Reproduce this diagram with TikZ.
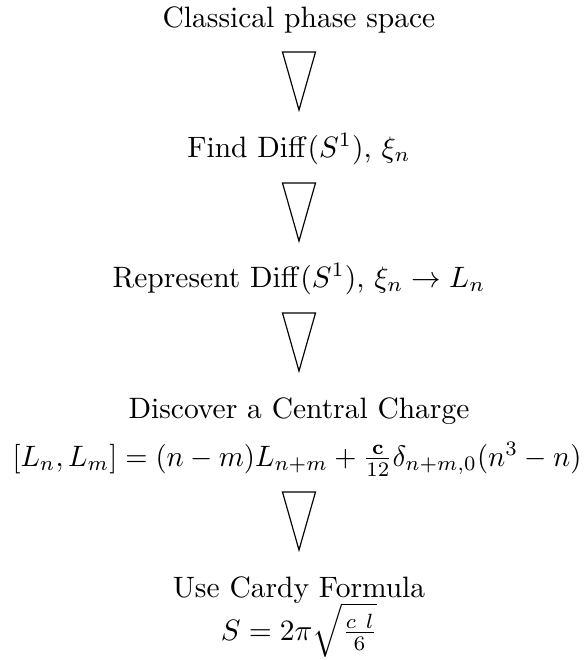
\documentclass[tikz,border=0pt]{standalone}
\usepackage{amsmath}
\begin{document}
\begin{tikzpicture}[x=0.339pt,y=-0.339pt,
  lbl/.style={anchor=base,inner sep=0pt},
  downtri/.pic={\draw[line width=0.4pt] (-16.5,0) -- (16.5,0) -- (0,58) -- cycle;}]
\useasboundingbox (0,0) rectangle (586,660);
\node[lbl] (t1) at (299,27) {Classical phase space};
\pic at (299,52) {downtri};
\node[lbl] (t2) at (299,157) {Find $\mathrm{Diff}(S^1)$, $\xi_n$};
\pic at (299,183) {downtri};
\node[lbl] (t3) at (299,287) {Represent $\mathrm{Diff}(S^1)$, $\xi_n\to L_n$};
\pic at (299,313) {downtri};
\node[lbl] (t4) at (299,418) {Discover a Central Charge};
\node[lbl,xscale=0.97] (t5) at (297,466) {$[L_n,L_m]=(n-m)L_{n+m}+\frac{\mathbf{c}}{12}\delta_{n+m,0}(n^3-n)$};
\pic at (299,492) {downtri};
\node[lbl] (t6) at (299,597) {Use Cardy Formula};
\node[lbl] (t7) at (299,640) {$S=2\pi\sqrt{\frac{c\ l}{6}}$};
\end{tikzpicture}
\end{document}
